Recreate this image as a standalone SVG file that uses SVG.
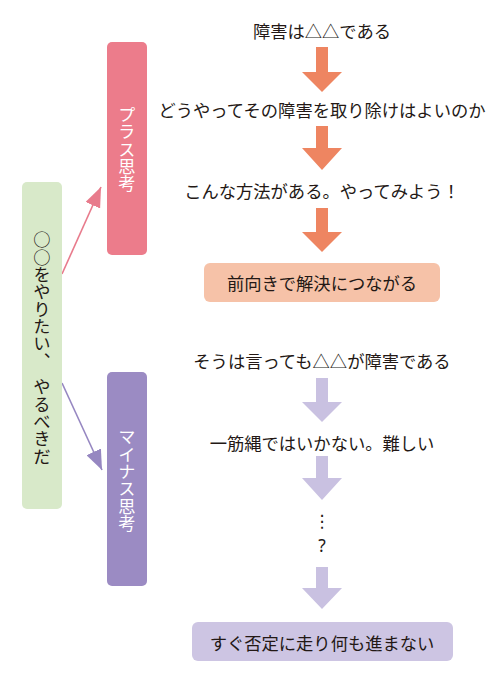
<svg xmlns="http://www.w3.org/2000/svg" width="500" height="678" viewBox="0 0 500 678">
<style>
.t{font-family:"Noto Sans CJK JP","Noto Sans",sans-serif;font-size:17.3px;fill:#231815;text-anchor:middle}
.v{font-family:"Noto Sans CJK JP","Noto Sans",sans-serif;font-size:17.3px;text-anchor:middle;writing-mode:vertical-rl}
.w{fill:#ffffff}
.k{fill:#231815}
.ao{fill:#ee8561}
.al{fill:#c9c1e1}
</style>
<defs>
<marker id="mp" markerUnits="userSpaceOnUse" markerWidth="20" markerHeight="16" refX="20" refY="8" orient="auto"><path d="M0,0 L20,8 L0,16 z" fill="#e87b8c"/></marker>
<marker id="mv" markerUnits="userSpaceOnUse" markerWidth="20" markerHeight="16" refX="20" refY="8" orient="auto"><path d="M0,0 L20,8 L0,16 z" fill="#9687c1"/></marker>
</defs>
<rect width="500" height="678" fill="#ffffff"/>
<g id="connectors">
<line x1="62" y1="274" x2="101" y2="187" stroke="#e87b8c" stroke-width="1.6" marker-end="url(#mp)"/>
<line x1="62" y1="383" x2="102" y2="470" stroke="#9687c1" stroke-width="1.6" marker-end="url(#mv)"/>
<polygon class="ao" points="316,47 328,47 328,72 342,72 322,92 302,72 316,72"/>
<polygon class="ao" points="316,126 328,126 328,148 342,148 322,170 302,148 316,148"/>
<polygon class="ao" points="316,208 328,208 328,232 342,232 322,252 302,232 316,232"/>
<polygon class="al" points="316,378 328,378 328,402 342,402 322,422 302,402 316,402"/>
<polygon class="al" points="316,456 328,456 328,478 342,478 322,500 302,478 316,478"/>
<polygon class="al" points="316,567 328,567 328,588 342,588 322,609 302,588 316,588"/>
</g>
<g id="start">
<rect x="22" y="182" width="40" height="327" rx="5" fill="#d8e9c9"/>
<text class="v k" x="42" y="348">○○をやりたい、　やるべきだ</text>
</g>
<g id="plus">
<rect x="107" y="42" width="40" height="213" rx="5" fill="#ec7c8b"/>
<text class="v w" x="127" y="149">プラス思考</text>
</g>
<g id="minus">
<rect x="107" y="372" width="40" height="214" rx="5" fill="#9b8bc3"/>
<text class="v w" x="127" y="480">マイナス思考</text>
</g>
<g id="p1"><text class="t" x="322" y="37.5">障害は△△である</text></g>
<g id="p2"><text class="t" x="322" y="116.5">どうやってその障害を取り除けはよいのか</text></g>
<g id="p3"><text class="t" x="322" y="197.5">こんな方法がある。やってみよう！</text></g>
<g id="p4">
<rect x="204" y="263" width="236" height="39" rx="6" fill="#f6c2a8"/>
<text class="t" x="322" y="289.5">前向きで解決につながる</text>
</g>
<g id="m1"><text class="t" x="322" y="367.5">そうは言っても△△が障害である</text></g>
<g id="m2"><text class="t" x="322" y="449.5">一筋縄ではいかない。難しい</text></g>
<g id="m3">
<text class="t" x="322" y="527" style="font-family:'DejaVu Sans',sans-serif">⋮</text>
<text class="t" x="322" y="552" style="font-family:'Noto Sans',sans-serif">?</text>
</g>
<g id="m4">
<rect x="192" y="622" width="261" height="39" rx="6" fill="#cdc5e3"/>
<text class="t" x="322" y="650">すぐ否定に走り何も進まない</text>
</g>
</svg>
